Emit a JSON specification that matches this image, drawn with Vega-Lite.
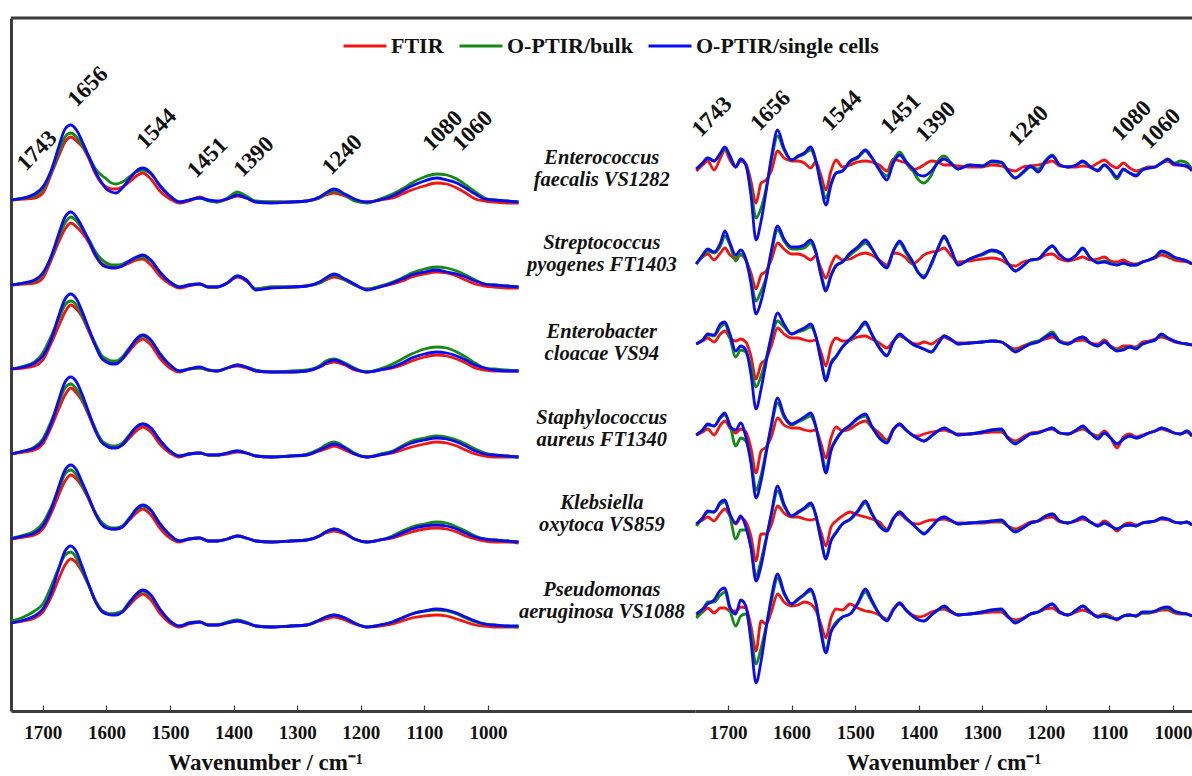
{
"$schema":"https://vega.github.io/schema/vega-lite/v6.json",
"background":"white",
"padding":{"left":5,"top":16,"right":0,"bottom":0},
"spacing":0,
"bounds":"flush",
"config":{"view":{"stroke":null},"font":"Liberation Serif","concat":{"spacing":0}},
"resolve":{"scale":{"color":"shared","x":"independent","y":"independent"},"legend":{"color":"shared"}},
"datasets":{
"abs":[
{"w":1750,"r1":511,"g1":511,"b1":511,"r2":426,"g2":426,"b2":426,"r3":342,"g3":342,"b3":342,"r4":257,"g4":257,"b4":257,"r5":172,"g5":173,"b5":172,"r6":88,"g6":90,"b6":88},
{"w":1730,"r1":512,"g1":513,"b1":513,"r2":427,"g2":428,"b2":428,"r3":343,"g3":345,"b3":344,"r4":259,"g4":260,"b4":260,"r5":174,"g5":176,"b5":175,"r6":90,"g6":94,"b6":91},
{"w":1713,"r1":513,"g1":515,"b1":517,"r2":428,"g2":430,"b2":431,"r3":345,"g3":349,"b3":348,"r4":261,"g4":264,"b4":263,"r5":176,"g5":180,"b5":178,"r6":93,"g6":100,"b6":95},
{"w":1700,"r1":518,"g1":522,"b1":524,"r2":433,"g2":437,"b2":438,"r3":351,"g3":358,"b3":355,"r4":267,"g4":272,"b4":270,"r5":182,"g5":188,"b5":185,"r6":99,"g6":107,"b6":102},
{"w":1686,"r1":538,"g1":540,"b1":542,"r2":452,"g2":455,"b2":456,"r3":369,"g3":376,"b3":373,"r4":285,"g4":291,"b4":289,"r5":199,"g5":205,"b5":203,"r6":115,"g6":126,"b6":120},
{"w":1675,"r1":555,"g1":559,"b1":564,"r2":469,"g2":474,"b2":477,"r3":385,"g3":392,"b3":395,"r4":302,"g4":308,"b4":311,"r5":216,"g5":222,"b5":224,"r6":132,"g6":143,"b6":142},
{"w":1665,"r1":569,"g1":574,"b1":582,"r2":482,"g2":488,"b2":494,"r3":399,"g3":406,"b3":412,"r4":316,"g4":323,"b4":329,"r5":230,"g5":237,"b5":241,"r6":146,"g6":156,"b6":160},
{"w":1656,"r1":574,"g1":578,"b1":586,"r2":488,"g2":494,"b2":499,"r3":406,"g3":410,"b3":417,"r4":323,"g4":327,"b4":334,"r5":236,"g5":241,"b5":246,"r6":152,"g6":159,"b6":165},
{"w":1647,"r1":570,"g1":574,"b1":581,"r2":484,"g2":490,"b2":494,"r3":402,"g3":406,"b3":412,"r4":318,"g4":322,"b4":329,"r5":232,"g5":236,"b5":241,"r6":148,"g6":153,"b6":159},
{"w":1639,"r1":565,"g1":567,"b1":571,"r2":479,"g2":483,"b2":485,"r3":395,"g3":397,"b3":401,"r4":311,"g4":313,"b4":318,"r5":225,"g5":227,"b5":230,"r6":140,"g6":142,"b6":146},
{"w":1628,"r1":553,"g1":555,"b1":555,"r2":469,"g2":472,"b2":471,"r3":380,"g3":382,"b3":383,"r4":296,"g4":298,"b4":299,"r5":212,"g5":213,"b5":214,"r6":126,"g6":126,"b6":127},
{"w":1617,"r1":537,"g1":542,"b1":539,"r2":455,"g2":459,"b2":456,"r3":365,"g3":367,"b3":365,"r4":280,"g4":282,"b4":280,"r5":197,"g5":198,"b5":197,"r6":110,"g6":110,"b6":109},
{"w":1608,"r1":528,"g1":536,"b1":529,"r2":448,"g2":452,"b2":447,"r3":354,"g3":356,"b3":353,"r4":270,"g4":271,"b4":269,"r5":188,"g5":189,"b5":187,"r6":101,"g6":101,"b6":100},
{"w":1600,"r1":524,"g1":532,"b1":522,"r2":445,"g2":448,"b2":444,"r3":350,"g3":352,"b3":349,"r4":266,"g4":267,"b4":265,"r5":184,"g5":185,"b5":183,"r6":98,"g6":98,"b6":97},
{"w":1592,"r1":522,"g1":528,"b1":519,"r2":444,"g2":446,"b2":443,"r3":349,"g3":350,"b3":347,"r4":264,"g4":265,"b4":263,"r5":182,"g5":183,"b5":182,"r6":97,"g6":97,"b6":96},
{"w":1585,"r1":522,"g1":527,"b1":518,"r2":444,"g2":446,"b2":443,"r3":349,"g3":350,"b3":347,"r4":264,"g4":265,"b4":263,"r5":182,"g5":183,"b5":182,"r6":97,"g6":98,"b6":96},
{"w":1575,"r1":524,"g1":529,"b1":523,"r2":445,"g2":447,"b2":445,"r3":352,"g3":354,"b3":352,"r4":266,"g4":268,"b4":266,"r5":184,"g5":185,"b5":184,"r6":99,"g6":100,"b6":99},
{"w":1564,"r1":529,"g1":534,"b1":532,"r2":448,"g2":450,"b2":450,"r3":360,"g3":363,"b3":362,"r4":273,"g4":276,"b4":275,"r5":191,"g5":193,"b5":192,"r6":106,"g6":109,"b6":108},
{"w":1553,"r1":535,"g1":539,"b1":540,"r2":451,"g2":453,"b2":454,"r3":368,"g3":371,"b3":372,"r4":280,"g4":284,"b4":284,"r5":198,"g5":201,"b5":202,"r6":113,"g6":116,"b6":117},
{"w":1543,"r1":538,"g1":541,"b1":543,"r2":452,"g2":454,"b2":456,"r3":372,"g3":375,"b3":376,"r4":284,"g4":287,"b4":287,"r5":202,"g5":205,"b5":206,"r6":117,"g6":120,"b6":121},
{"w":1530,"r1":532,"g1":537,"b1":538,"r2":446,"g2":450,"b2":451,"r3":366,"g3":370,"b3":371,"r4":279,"g4":283,"b4":283,"r5":196,"g5":200,"b5":201,"r6":111,"g6":115,"b6":116},
{"w":1516,"r1":520,"g1":526,"b1":525,"r2":435,"g2":439,"b2":439,"r3":353,"g3":358,"b3":357,"r4":267,"g4":271,"b4":271,"r5":183,"g5":188,"b5":187,"r6":98,"g6":102,"b6":102},
{"w":1500,"r1":512,"g1":515,"b1":515,"r2":427,"g2":429,"b2":429,"r3":343,"g3":346,"b3":346,"r4":258,"g4":260,"b4":260,"r5":173,"g5":176,"b5":176,"r6":88,"g6":90,"b6":90},
{"w":1485,"r1":508,"g1":509,"b1":509,"r2":423,"g2":424,"b2":424,"r3":339,"g3":340,"b3":340,"r4":254,"g4":255,"b4":255,"r5":169,"g5":170,"b5":170,"r6":84,"g6":85,"b6":85},
{"w":1470,"r1":510,"g1":511,"b1":511,"r2":425,"g2":426,"b2":426,"r3":342,"g3":342,"b3":342,"r4":257,"g4":257,"b4":257,"r5":172,"g5":172,"b5":172,"r6":87,"g6":88,"b6":88},
{"w":1453,"r1":514,"g1":513,"b1":513,"r2":427,"g2":427,"b2":427,"r3":343,"g3":343,"b3":344,"r4":258,"g4":258,"b4":258,"r5":173,"g5":173,"b5":173,"r6":89,"g6":89,"b6":89},
{"w":1440,"r1":511,"g1":510,"b1":511,"r2":424,"g2":424,"b2":424,"r3":341,"g3":341,"b3":341,"r4":256,"g4":256,"b4":256,"r5":170,"g5":170,"b5":170,"r6":86,"g6":86,"b6":86},
{"w":1426,"r1":509,"g1":509,"b1":510,"r2":424,"g2":424,"b2":424,"r3":340,"g3":340,"b3":340,"r4":256,"g4":256,"b4":256,"r5":170,"g5":170,"b5":170,"r6":86,"g6":86,"b6":86},
{"w":1410,"r1":512,"g1":513,"b1":512,"r2":428,"g2":428,"b2":428,"r3":343,"g3":343,"b3":343,"r4":257,"g4":258,"b4":258,"r5":172,"g5":172,"b5":172,"r6":88,"g6":89,"b6":88},
{"w":1394,"r1":515,"g1":519,"b1":516,"r2":434,"g2":435,"b2":435,"r3":345,"g3":346,"b3":346,"r4":259,"g4":260,"b4":260,"r5":175,"g5":175,"b5":175,"r6":90,"g6":91,"b6":90},
{"w":1380,"r1":513,"g1":515,"b1":513,"r2":430,"g2":431,"b2":431,"r3":343,"g3":344,"b3":344,"r4":258,"g4":258,"b4":258,"r5":173,"g5":173,"b5":173,"r6":88,"g6":89,"b6":88},
{"w":1365,"r1":509,"g1":510,"b1":509,"r2":422,"g2":422,"b2":421,"r3":340,"g3":341,"b3":340,"r4":255,"g4":255,"b4":255,"r5":170,"g5":170,"b5":170,"r6":85,"g6":85,"b6":85},
{"w":1340,"r1":509,"g1":509,"b1":508,"r2":424,"g2":424,"b2":423,"r3":339,"g3":339,"b3":339,"r4":254,"g4":254,"b4":254,"r5":169,"g5":169,"b5":169,"r6":84,"g6":84,"b6":84},
{"w":1310,"r1":509,"g1":509,"b1":509,"r2":424,"g2":424,"b2":424,"r3":339,"g3":340,"b3":339,"r4":255,"g4":255,"b4":255,"r5":170,"g5":170,"b5":170,"r6":85,"g6":85,"b6":85},
{"w":1285,"r1":510,"g1":510,"b1":510,"r2":425,"g2":425,"b2":425,"r3":340,"g3":341,"b3":340,"r4":256,"g4":257,"b4":256,"r5":171,"g5":171,"b5":171,"r6":86,"g6":86,"b6":86},
{"w":1265,"r1":513,"g1":513,"b1":514,"r2":428,"g2":428,"b2":429,"r3":344,"g3":345,"b3":344,"r4":260,"g4":262,"b4":261,"r5":175,"g5":175,"b5":175,"r6":90,"g6":91,"b6":91},
{"w":1255,"r1":516,"g1":517,"b1":518,"r2":431,"g2":432,"b2":433,"r3":347,"g3":350,"b3":348,"r4":262,"g4":266,"b4":264,"r5":178,"g5":179,"b5":179,"r6":92,"g6":94,"b6":94},
{"w":1242,"r1":518,"g1":520,"b1":522,"r2":434,"g2":436,"b2":437,"r3":349,"g3":352,"b3":351,"r4":265,"g4":269,"b4":267,"r5":180,"g5":182,"b5":182,"r6":94,"g6":96,"b6":96},
{"w":1225,"r1":515,"g1":516,"b1":517,"r2":431,"g2":431,"b2":432,"r3":346,"g3":348,"b3":347,"r4":261,"g4":264,"b4":263,"r5":177,"g5":178,"b5":178,"r6":91,"g6":93,"b6":93},
{"w":1210,"r1":511,"g1":510,"b1":512,"r2":426,"g2":426,"b2":427,"r3":341,"g3":343,"b3":342,"r4":257,"g4":258,"b4":257,"r5":172,"g5":172,"b5":172,"r6":87,"g6":88,"b6":88},
{"w":1190,"r1":509,"g1":508,"b1":509,"r2":422,"g2":422,"b2":421,"r3":339,"g3":339,"b3":339,"r4":254,"g4":254,"b4":254,"r5":169,"g5":169,"b5":169,"r6":84,"g6":84,"b6":84},
{"w":1170,"r1":511,"g1":512,"b1":511,"r2":424,"g2":425,"b2":424,"r3":341,"g3":342,"b3":341,"r4":256,"g4":257,"b4":256,"r5":171,"g5":171,"b5":171,"r6":85,"g6":86,"b6":86},
{"w":1150,"r1":513,"g1":517,"b1":515,"r2":427,"g2":429,"b2":428,"r3":343,"g3":347,"b3":344,"r4":258,"g4":260,"b4":259,"r5":173,"g5":175,"b5":174,"r6":87,"g6":89,"b6":89},
{"w":1135,"r1":517,"g1":522,"b1":520,"r2":430,"g2":433,"b2":432,"r3":346,"g3":352,"b3":348,"r4":261,"g4":265,"b4":264,"r5":176,"g5":180,"b5":178,"r6":90,"g6":93,"b6":93},
{"w":1120,"r1":521,"g1":528,"b1":525,"r2":434,"g2":438,"b2":436,"r3":350,"g3":357,"b3":353,"r4":264,"g4":270,"b4":268,"r5":179,"g5":184,"b5":182,"r6":93,"g6":97,"b6":97},
{"w":1100,"r1":525,"g1":534,"b1":530,"r2":437,"g2":442,"b2":439,"r3":354,"g3":362,"b3":357,"r4":267,"g4":273,"b4":271,"r5":182,"g5":187,"b5":185,"r6":95,"g6":100,"b6":100},
{"w":1081,"r1":528,"g1":537,"b1":533,"r2":439,"g2":444,"b2":441,"r3":356,"g3":364,"b3":359,"r4":269,"g4":275,"b4":273,"r5":183,"g5":189,"b5":186,"r6":96,"g6":101,"b6":102},
{"w":1065,"r1":527,"g1":536,"b1":531,"r2":438,"g2":443,"b2":439,"r3":355,"g3":363,"b3":358,"r4":268,"g4":274,"b4":272,"r5":182,"g5":188,"b5":185,"r6":95,"g6":100,"b6":101},
{"w":1049,"r1":523,"g1":532,"b1":528,"r2":435,"g2":440,"b2":437,"r3":352,"g3":359,"b3":355,"r4":265,"g4":271,"b4":269,"r5":179,"g5":184,"b5":182,"r6":92,"g6":97,"b6":98},
{"w":1035,"r1":518,"g1":526,"b1":523,"r2":431,"g2":436,"b2":434,"r3":348,"g3":354,"b3":351,"r4":261,"g4":267,"b4":265,"r5":175,"g5":180,"b5":178,"r6":89,"g6":93,"b6":94},
{"w":1020,"r1":512,"g1":519,"b1":517,"r2":427,"g2":431,"b2":430,"r3":343,"g3":348,"b3":346,"r4":257,"g4":262,"b4":260,"r5":172,"g5":175,"b5":174,"r6":86,"g6":89,"b6":90},
{"w":1005,"r1":510,"g1":513,"b1":512,"r2":425,"g2":427,"b2":427,"r3":341,"g3":343,"b3":343,"r4":255,"g4":258,"b4":257,"r5":170,"g5":172,"b5":172,"r6":85,"g6":87,"b6":87},
{"w":990,"r1":509,"g1":511,"b1":511,"r2":424,"g2":426,"b2":426,"r3":340,"g3":342,"b3":341,"r4":254,"g4":256,"b4":256,"r5":169,"g5":171,"b5":171,"r6":84,"g6":86,"b6":86},
{"w":970,"r1":508,"g1":510,"b1":510,"r2":423,"g2":425,"b2":425,"r3":340,"g3":341,"b3":340,"r4":254,"g4":255,"b4":255,"r5":169,"g5":170,"b5":170,"r6":84,"g6":85,"b6":85},
{"w":952,"r1":508,"g1":509,"b1":509,"r2":423,"g2":424,"b2":424,"r3":340,"g3":340,"b3":340,"r4":254,"g4":254,"b4":254,"r5":168,"g5":169,"b5":169,"r6":84,"g6":84,"b6":85}
],
"d2":[
{"w":1750,"r1":540,"g1":542,"b1":542,"r2":447,"g2":447,"b2":447,"r3":367,"g3":367,"b3":367,"r4":276,"g4":276,"b4":276,"r5":187,"g5":185,"b5":187,"r6":95,"g6":93,"b6":97},
{"w":1740,"r1":546,"g1":548,"b1":548,"r2":454,"g2":455,"b2":456,"r3":370,"g3":371,"b3":371,"r4":279,"g4":281,"b4":281,"r5":191,"g5":193,"b5":193,"r6":99,"g6":100,"b6":102},
{"w":1732,"r1":550,"g1":553,"b1":553,"r2":457,"g2":460,"b2":462,"r3":373,"g3":376,"b3":377,"r4":282,"g4":286,"b4":287,"r5":194,"g5":199,"b5":200,"r6":103,"g6":109,"b6":107},
{"w":1722,"r1":541,"g1":550,"b1":550,"r2":451,"g2":458,"b2":459,"r3":369,"g3":375,"b3":376,"r4":276,"g4":285,"b4":285,"r5":190,"g5":199,"b5":199,"r6":98,"g6":109,"b6":111},
{"w":1712,"r1":553,"g1":557,"b1":558,"r2":458,"g2":465,"b2":468,"r3":377,"g3":384,"b3":387,"r4":286,"g4":293,"b4":294,"r5":198,"g5":207,"b5":209,"r6":103,"g6":116,"b6":121},
{"w":1705,"r1":561,"g1":562,"b1":564,"r2":463,"g2":475,"b2":480,"r3":380,"g3":387,"b3":389,"r4":290,"g4":296,"b4":298,"r5":202,"g5":209,"b5":211,"r6":103,"g6":119,"b6":123},
{"w":1697,"r1":551,"g1":555,"b1":555,"r2":456,"g2":466,"b2":468,"r3":373,"g3":373,"b3":377,"r4":283,"g4":286,"b4":285,"r5":195,"g5":195,"b5":197,"r6":100,"g6":101,"b6":104},
{"w":1688,"r1":544,"g1":544,"b1":544,"r2":453,"g2":450,"b2":456,"r3":370,"g3":354,"b3":360,"r4":278,"g4":265,"b4":281,"r5":187,"g5":172,"b5":188,"r6":100,"g6":85,"b6":97},
{"w":1680,"r1":550,"g1":552,"b1":552,"r2":456,"g2":457,"b2":461,"r3":372,"g3":361,"b3":365,"r4":282,"g4":273,"b4":288,"r5":193,"g5":181,"b5":195,"r6":104,"g6":95,"b6":111},
{"w":1672,"r1":547,"g1":546,"b1":546,"r2":451,"g2":451,"b2":452,"r3":369,"g3":359,"b3":361,"r4":279,"g4":270,"b4":274,"r5":189,"g5":181,"b5":184,"r6":103,"g6":97,"b6":105},
{"w":1664,"r1":530,"g1":523,"b1":516,"r2":438,"g2":432,"b2":428,"r3":355,"g3":345,"b3":337,"r4":263,"g4":252,"b4":248,"r5":175,"g5":165,"b5":163,"r6":85,"g6":77,"b6":70},
{"w":1656,"r1":508,"g1":493,"b1":471,"r2":422,"g2":410,"b2":397,"r3":332,"g3":324,"b3":302,"r4":238,"g4":221,"b4":213,"r5":150,"g5":135,"b5":130,"r6":60,"g6":47,"b6":28},
{"w":1648,"r1":528,"g1":503,"b1":490,"r2":436,"g2":420,"b2":410,"r3":347,"g3":335,"b3":322,"r4":260,"g4":236,"b4":230,"r5":177,"g5":151,"b5":145,"r6":90,"g6":63,"b6":50},
{"w":1640,"r1":531,"g1":523,"b1":520,"r2":440,"g2":434,"b2":432,"r3":352,"g3":353,"b3":349,"r4":264,"g4":260,"b4":258,"r5":177,"g5":173,"b5":171,"r6":87,"g6":85,"b6":83},
{"w":1632,"r1":540,"g1":550,"b1":553,"r2":451,"g2":458,"b2":460,"r3":365,"g3":373,"b3":375,"r4":274,"g4":284,"b4":286,"r5":186,"g5":196,"b5":197,"r6":99,"g6":109,"b6":113},
{"w":1622,"r1":560,"g1":575,"b1":581,"r2":468,"g2":481,"b2":485,"r3":383,"g3":390,"b3":398,"r4":293,"g4":308,"b4":313,"r5":205,"g5":220,"b5":225,"r6":117,"g6":133,"b6":137},
{"w":1612,"r1":553,"g1":561,"b1":563,"r2":462,"g2":470,"b2":472,"r3":377,"g3":384,"b3":387,"r4":286,"g4":294,"b4":296,"r5":198,"g5":205,"b5":207,"r6":109,"g6":117,"b6":119},
{"w":1600,"r1":550,"g1":551,"b1":551,"r2":457,"g2":462,"b2":464,"r3":373,"g3":377,"b3":377,"r4":283,"g4":286,"b4":287,"r5":194,"g5":195,"b5":195,"r6":105,"g6":107,"b6":107},
{"w":1590,"r1":550,"g1":554,"b1":555,"r2":457,"g2":462,"b2":464,"r3":373,"g3":379,"b3":380,"r4":283,"g4":289,"b4":290,"r5":194,"g5":198,"b5":199,"r6":106,"g6":111,"b6":112},
{"w":1580,"r1":548,"g1":557,"b1":558,"r2":455,"g2":463,"b2":466,"r3":371,"g3":381,"b3":383,"r4":281,"g4":292,"b4":294,"r5":192,"g5":202,"b5":203,"r6":109,"g6":116,"b6":117},
{"w":1570,"r1":543,"g1":561,"b1":564,"r2":451,"g2":468,"b2":471,"r3":370,"g3":384,"b3":387,"r4":280,"g4":295,"b4":298,"r5":191,"g5":206,"b5":208,"r6":107,"g6":120,"b6":122},
{"w":1562,"r1":549,"g1":550,"b1":551,"r2":455,"g2":458,"b2":460,"r3":371,"g3":375,"b3":375,"r4":281,"g4":284,"b4":285,"r5":192,"g5":196,"b5":196,"r6":101,"g6":108,"b6":109},
{"w":1554,"r1":536,"g1":530,"b1":526,"r2":443,"g2":438,"b2":436,"r3":359,"g3":352,"b3":351,"r4":268,"g4":262,"b4":260,"r5":179,"g5":172,"b5":172,"r6":87,"g6":81,"b6":79},
{"w":1546,"r1":521,"g1":513,"b1":506,"r2":433,"g2":422,"b2":420,"r3":345,"g3":333,"b3":330,"r4":253,"g4":243,"b4":238,"r5":165,"g5":153,"b5":152,"r6":73,"g6":61,"b6":58},
{"w":1538,"r1":540,"g1":528,"b1":526,"r2":446,"g2":436,"b2":435,"r3":365,"g3":349,"b3":347,"r4":273,"g4":262,"b4":260,"r5":184,"g5":171,"b5":170,"r6":93,"g6":80,"b6":79},
{"w":1530,"r1":551,"g1":538,"b1":538,"r2":455,"g2":446,"b2":445,"r3":373,"g3":355,"b3":354,"r4":284,"g4":272,"b4":271,"r5":190,"g5":179,"b5":178,"r6":102,"g6":89,"b6":87},
{"w":1520,"r1":544,"g1":540,"b1":540,"r2":451,"g2":449,"b2":449,"r3":370,"g3":364,"b3":364,"r4":280,"g4":280,"b4":280,"r5":195,"g5":187,"b5":187,"r6":101,"g6":94,"b6":94},
{"w":1508,"r1":546,"g1":549,"b1":550,"r2":452,"g2":456,"b2":458,"r3":371,"g3":371,"b3":372,"r4":282,"g4":285,"b4":286,"r5":199,"g5":191,"b5":192,"r6":107,"g6":97,"b6":97},
{"w":1496,"r1":549,"g1":553,"b1":554,"r2":456,"g2":462,"b2":464,"r3":374,"g3":379,"b3":380,"r4":287,"g4":292,"b4":293,"r5":196,"g5":199,"b5":200,"r6":103,"g6":107,"b6":108},
{"w":1484,"r1":550,"g1":560,"b1":561,"r2":458,"g2":468,"b2":471,"r3":375,"g3":387,"b3":389,"r4":290,"g4":295,"b4":297,"r5":194,"g5":208,"b5":210,"r6":100,"g6":119,"b6":122},
{"w":1474,"r1":549,"g1":553,"b1":554,"r2":456,"g2":462,"b2":463,"r3":372,"g3":377,"b3":377,"r4":284,"g4":284,"b4":285,"r5":192,"g5":197,"b5":198,"r6":99,"g6":109,"b6":111},
{"w":1462,"r1":546,"g1":542,"b1":541,"r2":451,"g2":450,"b2":450,"r3":368,"g3":364,"b3":363,"r4":278,"g4":274,"b4":273,"r5":189,"g5":186,"b5":185,"r6":96,"g6":97,"b6":97},
{"w":1450,"r1":540,"g1":535,"b1":531,"r2":446,"g2":444,"b2":443,"r3":363,"g3":356,"b3":355,"r4":271,"g4":269,"b4":268,"r5":182,"g5":181,"b5":180,"r6":92,"g6":91,"b6":90},
{"w":1440,"r1":552,"g1":550,"b1":548,"r2":458,"g2":460,"b2":460,"r3":370,"g3":369,"b3":369,"r4":282,"g4":281,"b4":281,"r5":193,"g5":192,"b5":192,"r6":102,"g6":101,"b6":101},
{"w":1430,"r1":550,"g1":559,"b1":556,"r2":457,"g2":468,"b2":470,"r3":375,"g3":376,"b3":377,"r4":286,"g4":287,"b4":287,"r5":197,"g5":199,"b5":199,"r6":107,"g6":108,"b6":108},
{"w":1420,"r1":548,"g1":550,"b1":549,"r2":453,"g2":458,"b2":460,"r3":372,"g3":372,"b3":372,"r4":281,"g4":281,"b4":281,"r5":192,"g5":193,"b5":193,"r6":101,"g6":101,"b6":101},
{"w":1410,"r1":541,"g1":541,"b1":543,"r2":447,"g2":448,"b2":450,"r3":368,"g3":367,"b3":367,"r4":276,"g4":276,"b4":276,"r5":188,"g5":187,"b5":187,"r6":96,"g6":95,"b6":95},
{"w":1400,"r1":543,"g1":531,"b1":536,"r2":451,"g2":438,"b2":438,"r3":367,"g3":364,"b3":364,"r4":275,"g4":272,"b4":272,"r5":187,"g5":181,"b5":181,"r6":94,"g6":91,"b6":91},
{"w":1392,"r1":546,"g1":528,"b1":535,"r2":456,"g2":435,"b2":433,"r3":369,"g3":362,"b3":362,"r4":277,"g4":270,"b4":270,"r5":189,"g5":178,"b5":177,"r6":95,"g6":90,"b6":90},
{"w":1380,"r1":550,"g1":536,"b1":540,"r2":459,"g2":446,"b2":448,"r3":367,"g3":359,"b3":359,"r4":279,"g4":275,"b4":275,"r5":191,"g5":184,"b5":184,"r6":99,"g6":96,"b6":96},
{"w":1370,"r1":549,"g1":550,"b1":548,"r2":460,"g2":463,"b2":462,"r3":371,"g3":367,"b3":367,"r4":280,"g4":280,"b4":280,"r5":191,"g5":191,"b5":191,"r6":101,"g6":101,"b6":101},
{"w":1360,"r1":546,"g1":555,"b1":552,"r2":463,"g2":473,"b2":475,"r3":374,"g3":375,"b3":375,"r4":281,"g4":283,"b4":283,"r5":192,"g5":194,"b5":194,"r6":102,"g6":104,"b6":105},
{"w":1350,"r1":546,"g1":549,"b1":548,"r2":456,"g2":463,"b2":463,"r3":371,"g3":372,"b3":372,"r4":279,"g4":280,"b4":280,"r5":190,"g5":191,"b5":191,"r6":99,"g6":100,"b6":100},
{"w":1338,"r1":545,"g1":542,"b1":542,"r2":449,"g2":446,"b2":446,"r3":368,"g3":367,"b3":367,"r4":277,"g4":276,"b4":276,"r5":188,"g5":187,"b5":187,"r6":96,"g6":96,"b6":96},
{"w":1320,"r1":544,"g1":546,"b1":546,"r2":450,"g2":452,"b2":452,"r3":368,"g3":368,"b3":368,"r4":277,"g4":277,"b4":277,"r5":188,"g5":188,"b5":188,"r6":97,"g6":97,"b6":97},
{"w":1300,"r1":544,"g1":545,"b1":545,"r2":452,"g2":456,"b2":457,"r3":369,"g3":369,"b3":369,"r4":278,"g4":279,"b4":279,"r5":188,"g5":189,"b5":189,"r6":98,"g6":99,"b6":99},
{"w":1285,"r1":546,"g1":549,"b1":550,"r2":453,"g2":460,"b2":461,"r3":370,"g3":370,"b3":370,"r4":279,"g4":281,"b4":281,"r5":189,"g5":190,"b5":190,"r6":99,"g6":101,"b6":101},
{"w":1270,"r1":545,"g1":548,"b1":549,"r2":451,"g2":457,"b2":458,"r3":369,"g3":369,"b3":369,"r4":279,"g4":281,"b4":282,"r5":189,"g5":190,"b5":191,"r6":99,"g6":101,"b6":102},
{"w":1260,"r1":542,"g1":540,"b1":541,"r2":447,"g2":448,"b2":448,"r3":365,"g3":365,"b3":365,"r4":274,"g4":273,"b4":273,"r5":185,"g5":185,"b5":185,"r6":94,"g6":95,"b6":95},
{"w":1248,"r1":540,"g1":533,"b1":533,"r2":445,"g2":440,"b2":440,"r3":362,"g3":360,"b3":359,"r4":270,"g4":268,"b4":267,"r5":182,"g5":180,"b5":179,"r6":91,"g6":89,"b6":88},
{"w":1236,"r1":544,"g1":538,"b1":539,"r2":449,"g2":445,"b2":445,"r3":365,"g3":363,"b3":363,"r4":274,"g4":272,"b4":272,"r5":185,"g5":183,"b5":183,"r6":93,"g6":92,"b6":92},
{"w":1224,"r1":545,"g1":544,"b1":545,"r2":451,"g2":451,"b2":451,"r3":368,"g3":368,"b3":367,"r4":278,"g4":277,"b4":277,"r5":189,"g5":188,"b5":188,"r6":97,"g6":97,"b6":97},
{"w":1212,"r1":546,"g1":542,"b1":539,"r2":452,"g2":452,"b2":452,"r3":370,"g3":370,"b3":369,"r4":279,"g4":278,"b4":278,"r5":190,"g5":190,"b5":190,"r6":99,"g6":99,"b6":99},
{"w":1200,"r1":548,"g1":551,"b1":550,"r2":456,"g2":460,"b2":460,"r3":372,"g3":375,"b3":374,"r4":281,"g4":281,"b4":281,"r5":193,"g5":195,"b5":195,"r6":102,"g6":104,"b6":104},
{"w":1190,"r1":550,"g1":556,"b1":555,"r2":457,"g2":465,"b2":465,"r3":374,"g3":379,"b3":377,"r4":282,"g4":283,"b4":283,"r5":194,"g5":197,"b5":197,"r6":103,"g6":107,"b6":107},
{"w":1178,"r1":545,"g1":546,"b1":546,"r2":452,"g2":456,"b2":456,"r3":370,"g3":370,"b3":369,"r4":278,"g4":278,"b4":278,"r5":189,"g5":190,"b5":190,"r6":98,"g6":99,"b6":99},
{"w":1165,"r1":544,"g1":544,"b1":544,"r2":450,"g2":451,"b2":451,"r3":368,"g3":367,"b3":367,"r4":277,"g4":277,"b4":277,"r5":188,"g5":188,"b5":188,"r6":96,"g6":96,"b6":96},
{"w":1152,"r1":544,"g1":546,"b1":546,"r2":452,"g2":456,"b2":456,"r3":370,"g3":372,"b3":372,"r4":280,"g4":281,"b4":281,"r5":190,"g5":191,"b5":191,"r6":99,"g6":101,"b6":101},
{"w":1142,"r1":545,"g1":549,"b1":550,"r2":454,"g2":462,"b2":463,"r3":371,"g3":374,"b3":374,"r4":282,"g4":284,"b4":285,"r5":192,"g5":194,"b5":194,"r6":101,"g6":105,"b6":105},
{"w":1130,"r1":544,"g1":544,"b1":544,"r2":451,"g2":453,"b2":453,"r3":368,"g3":368,"b3":368,"r4":278,"g4":278,"b4":278,"r5":189,"g5":189,"b5":189,"r6":98,"g6":99,"b6":99},
{"w":1118,"r1":548,"g1":541,"b1":540,"r2":452,"g2":449,"b2":448,"r3":367,"g3":365,"b3":365,"r4":275,"g4":273,"b4":272,"r5":186,"g5":185,"b5":185,"r6":95,"g6":94,"b6":94},
{"w":1108,"r1":551,"g1":546,"b1":546,"r2":454,"g2":450,"b2":449,"r3":371,"g3":369,"b3":369,"r4":280,"g4":278,"b4":278,"r5":190,"g5":188,"b5":188,"r6":97,"g6":96,"b6":95},
{"w":1098,"r1":546,"g1":540,"b1":541,"r2":450,"g2":448,"b2":447,"r3":365,"g3":364,"b3":364,"r4":273,"g4":273,"b4":273,"r5":186,"g5":185,"b5":185,"r6":95,"g6":94,"b6":93},
{"w":1088,"r1":543,"g1":532,"b1":534,"r2":449,"g2":446,"b2":446,"r3":362,"g3":361,"b3":360,"r4":263,"g4":267,"b4":267,"r5":180,"g5":182,"b5":182,"r6":91,"g6":92,"b6":92},
{"w":1078,"r1":548,"g1":541,"b1":542,"r2":451,"g2":448,"b2":448,"r3":365,"g3":362,"b3":361,"r4":274,"g4":272,"b4":272,"r5":186,"g5":185,"b5":185,"r6":95,"g6":95,"b6":95},
{"w":1068,"r1":543,"g1":538,"b1":538,"r2":448,"g2":446,"b2":446,"r3":365,"g3":364,"b3":364,"r4":277,"g4":275,"b4":275,"r5":188,"g5":186,"b5":186,"r6":96,"g6":96,"b6":96},
{"w":1058,"r1":540,"g1":536,"b1":535,"r2":447,"g2":446,"b2":446,"r3":364,"g3":363,"b3":362,"r4":274,"g4":273,"b4":273,"r5":186,"g5":185,"b5":185,"r6":95,"g6":95,"b6":95},
{"w":1048,"r1":542,"g1":542,"b1":541,"r2":449,"g2":449,"b2":449,"r3":369,"g3":367,"b3":367,"r4":276,"g4":275,"b4":275,"r5":188,"g5":188,"b5":188,"r6":98,"g6":98,"b6":99},
{"w":1038,"r1":544,"g1":543,"b1":543,"r2":451,"g2":451,"b2":451,"r3":370,"g3":369,"b3":369,"r4":278,"g4":278,"b4":278,"r5":189,"g5":189,"b5":189,"r6":98,"g6":98,"b6":99},
{"w":1028,"r1":544,"g1":544,"b1":544,"r2":453,"g2":454,"b2":454,"r3":372,"g3":371,"b3":371,"r4":280,"g4":280,"b4":280,"r5":190,"g5":190,"b5":190,"r6":99,"g6":100,"b6":100},
{"w":1018,"r1":548,"g1":548,"b1":548,"r2":456,"g2":459,"b2":460,"r3":374,"g3":376,"b3":377,"r4":282,"g4":283,"b4":283,"r5":192,"g5":193,"b5":193,"r6":101,"g6":102,"b6":103},
{"w":1008,"r1":550,"g1":551,"b1":552,"r2":454,"g2":457,"b2":458,"r3":372,"g3":373,"b3":373,"r4":280,"g4":281,"b4":281,"r5":191,"g5":192,"b5":192,"r6":101,"g6":103,"b6":104},
{"w":998,"r1":546,"g1":548,"b1":547,"r2":451,"g2":453,"b2":454,"r3":369,"g3":370,"b3":370,"r4":278,"g4":278,"b4":278,"r5":189,"g5":189,"b5":189,"r6":98,"g6":99,"b6":100},
{"w":988,"r1":546,"g1":550,"b1":546,"r2":450,"g2":452,"b2":452,"r3":368,"g3":368,"b3":368,"r4":277,"g4":277,"b4":277,"r5":188,"g5":188,"b5":188,"r6":97,"g6":98,"b6":98},
{"w":978,"r1":544,"g1":548,"b1":545,"r2":449,"g2":450,"b2":450,"r3":367,"g3":367,"b3":367,"r4":279,"g4":280,"b4":280,"r5":189,"g5":189,"b5":189,"r6":97,"g6":97,"b6":97},
{"w":970,"r1":541,"g1":542,"b1":540,"r2":447,"g2":447,"b2":447,"r3":366,"g3":366,"b3":366,"r4":275,"g4":275,"b4":275,"r5":186,"g5":186,"b5":186,"r6":95,"g6":95,"b6":95}
],
"peaksL":[{"t":"1743","w":1727,"v":539},{"t":"1656","w":1647,"v":603},{"t":"1544","w":1539,"v":561},{"t":"1451","w":1459,"v":532},{"t":"1390","w":1386,"v":533},{"t":"1240","w":1247,"v":535},{"t":"1080","w":1089,"v":559},{"t":"1060","w":1042,"v":559}],
"peaksR":[{"t":"1743","w":1743,"v":573},{"t":"1656","w":1651,"v":579},{"t":"1544","w":1539,"v":579},{"t":"1451","w":1446,"v":576},{"t":"1390","w":1391,"v":568},{"t":"1240","w":1245,"v":564},{"t":"1080","w":1083,"v":569},{"t":"1060","w":1037,"v":561}],
"names":[{"t":"Enterococcus\nfaecalis VS1282","w":821,"v":553},{"t":"Streptococcus\npyogenes FT1403","w":821,"v":468},{"t":"Enterobacter\ncloacae VS94","w":821,"v":379},{"t":"Staphylococcus\naureus FT1340","w":821,"v":293},{"t":"Klebsiella\noxytoca VS859","w":821,"v":208},{"t":"Pseudomonas\naeruginosa VS1088","w":821,"v":121}]
},
"hconcat":[
{
"width":684,"height":693,
"layer":[
{"data":{"name":"abs"},
"transform":[{"fold":["r1","r2","r3","r4","r5","r6","g1","g2","g3","g4","g5","g6","b1","b2","b3","b4","b5","b6"],"as":["curve","v"]}],
"mark":{"type":"line","strokeWidth":2.8,"interpolate":"monotone"},
"encoding":{
"x":{"field":"w","type":"quantitative","scale":{"domain":[1750,674.5],"nice":false,"zero":false},
"axis":{"values":[1700,1600,1500,1400,1300,1200,1100,1000],"format":"d","grid":false,"domainColor":"#3c3c3c","domainWidth":3,"tickColor":"#3c3c3c","tickWidth":1.2,"tickSize":-6,"labelPadding":18,"labelFont":"Liberation Serif","labelFontWeight":"bold","labelFontSize":19,"labelColor":"#111111","labelFlush":false,"labelOverlap":false,"title":"Wavenumber / cm⁻¹","titleFont":"Liberation Serif","titleFontSize":23,"titleFontWeight":"bold","titleColor":"#111111","titlePadding":9,"titleX":254}},
"y":{"field":"v","type":"quantitative","scale":{"domain":[0,693],"nice":false},
"axis":{"domain":true,"domainColor":"#3c3c3c","domainWidth":3,"ticks":false,"labels":false,"grid":false,"title":null,"minExtent":0}},
"color":{"field":"curve","type":"nominal",
"scale":{"domain":["r1","r2","r3","r4","r5","r6","g1","g2","g3","g4","g5","g6","b1","b2","b3","b4","b5","b6"],
"range":["#f01414","#f01414","#f01414","#f01414","#f01414","#f01414","#148a14","#148a14","#148a14","#148a14","#148a14","#148a14","#0a0af5","#0a0af5","#0a0af5","#0a0af5","#0a0af5","#0a0af5"]},
"legend":{"values":["r1","g1","b1"],"labelExpr":"datum.label == 'r1' ? 'FTIR' : datum.label == 'g1' ? 'O-PTIR/bulk' : 'O-PTIR/single cells'","orient":"none","legendX":331,"legendY":5,"direction":"horizontal","title":null,"symbolType":"stroke","symbolSize":1849,"symbolStrokeWidth":3,"labelFont":"Liberation Serif","labelFontWeight":"bold","labelFontSize":22,"labelLimit":400,"labelColor":"#111111","labelOffset":3,"columnPadding":9,"padding":0}}
}},
{"data":{"name":"peaksL"},
"mark":{"type":"text","angle":-45,"align":"left","baseline":"alphabetic","font":"Liberation Serif","fontWeight":"bold","fontSize":23,"color":"#111111"},
"encoding":{"x":{"field":"w","type":"quantitative","scale":{"domain":[1750,674.5],"nice":false,"zero":false}},"y":{"field":"v","type":"quantitative","scale":{"domain":[0,693],"nice":false}},"text":{"field":"t"}}},
{"data":{"name":"names"},
"mark":{"type":"text","align":"center","baseline":"middle","lineBreak":"\n","lineHeight":22,"font":"Liberation Serif","fontWeight":"bold","fontStyle":"italic","fontSize":20.5,"color":"#111111"},
"encoding":{"x":{"field":"w","type":"quantitative","scale":{"domain":[1750,674.5],"nice":false,"zero":false}},"y":{"field":"v","type":"quantitative","scale":{"domain":[0,693],"nice":false}},"text":{"field":"t"}}},
{"data":{"values":[{}]},
"mark":{"type":"rule","color":"#3c3c3c","strokeWidth":3},
"encoding":{"y":{"datum":693,"type":"quantitative","scale":{"domain":[0,693],"nice":false}}}}
]
},
{
"width":497,"height":693,
"layer":[
{"data":{"name":"d2"},
"transform":[{"fold":["r1","r2","r3","r4","r5","r6","g1","g2","g3","g4","g5","g6","b1","b2","b3","b4","b5","b6"],"as":["curve","v"]}],
"mark":{"type":"line","strokeWidth":2.8,"interpolate":"monotone"},
"encoding":{
"x":{"field":"w","type":"quantitative","scale":{"domain":[1752,970],"nice":false,"zero":false},
"axis":{"values":[1700,1600,1500,1400,1300,1200,1100,1000],"format":"d","grid":false,"domainColor":"#3c3c3c","domainWidth":3,"tickColor":"#3c3c3c","tickWidth":1.2,"tickSize":-6,"labelPadding":18,"labelFont":"Liberation Serif","labelFontWeight":"bold","labelFontSize":19,"labelColor":"#111111","labelFlush":false,"labelOverlap":false,"title":"Wavenumber / cm⁻¹","titleFont":"Liberation Serif","titleFontSize":23,"titleFontWeight":"bold","titleColor":"#111111","titlePadding":9}},
"y":{"field":"v","type":"quantitative","scale":{"domain":[0,693],"nice":false},"axis":null},
"color":{"field":"curve","type":"nominal",
"scale":{"domain":["r1","r2","r3","r4","r5","r6","g1","g2","g3","g4","g5","g6","b1","b2","b3","b4","b5","b6"],
"range":["#f01414","#f01414","#f01414","#f01414","#f01414","#f01414","#148a14","#148a14","#148a14","#148a14","#148a14","#148a14","#0a0af5","#0a0af5","#0a0af5","#0a0af5","#0a0af5","#0a0af5"]},
"legend":{"values":["r1","g1","b1"],"labelExpr":"datum.label == 'r1' ? 'FTIR' : datum.label == 'g1' ? 'O-PTIR/bulk' : 'O-PTIR/single cells'","orient":"none","legendX":331,"legendY":5,"direction":"horizontal","title":null,"symbolType":"stroke","symbolSize":1849,"symbolStrokeWidth":3,"labelFont":"Liberation Serif","labelFontWeight":"bold","labelFontSize":22,"labelLimit":400,"labelColor":"#111111","labelOffset":3,"columnPadding":9,"padding":0}}
}},
{"data":{"name":"peaksR"},
"mark":{"type":"text","angle":-45,"align":"left","baseline":"alphabetic","font":"Liberation Serif","fontWeight":"bold","fontSize":23,"color":"#111111"},
"encoding":{"x":{"field":"w","type":"quantitative","scale":{"domain":[1752,970],"nice":false,"zero":false}},"y":{"field":"v","type":"quantitative","scale":{"domain":[0,693],"nice":false}},"text":{"field":"t"}}},
{"data":{"values":[{}]},
"mark":{"type":"rule","color":"#3c3c3c","strokeWidth":3},
"encoding":{"y":{"datum":693,"type":"quantitative","scale":{"domain":[0,693],"nice":false}}}}
]
}
]
}
